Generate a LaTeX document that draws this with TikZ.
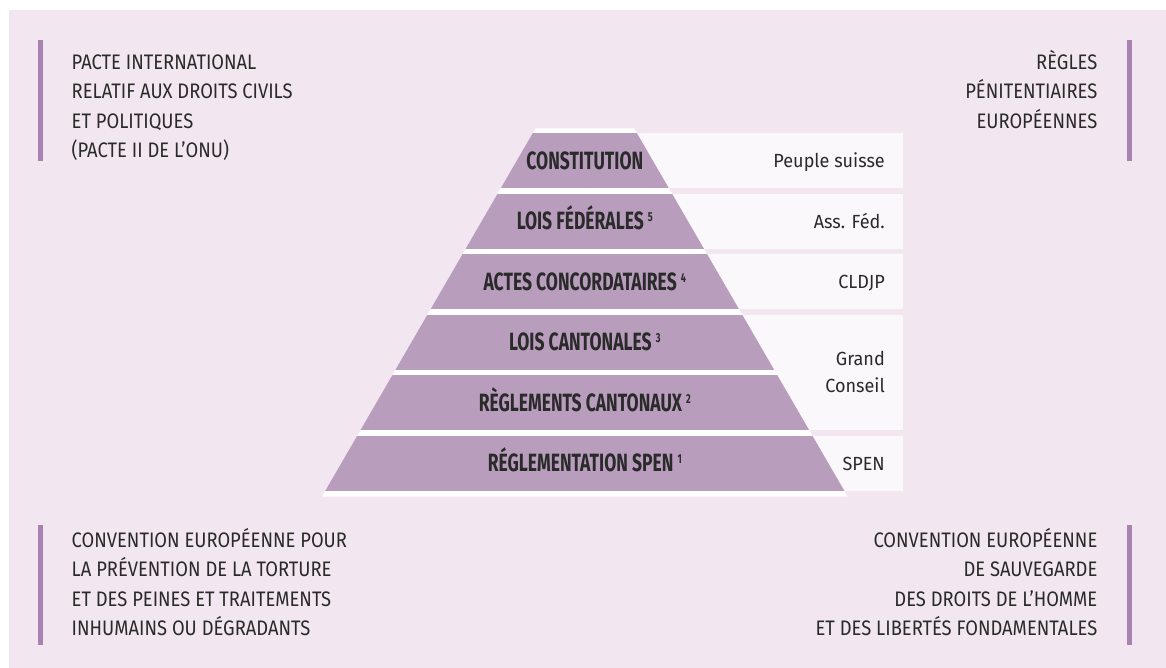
\documentclass[tikz,border=0pt]{standalone}
\usepackage{fontspec}
\setmainfont{Fira Sans}
\newfontfamily\sidefont{Fira Sans}[FakeStretch=0.875]
\newfontfamily\tierfont{Fira Sans}[FakeStretch=0.70]
\newfontfamily\labelfont{Fira Sans}[FakeStretch=0.95]
\definecolor{bgc}{HTML}{F2E7F1}
\definecolor{tierc}{HTML}{B89DBD}
\definecolor{boxc}{HTML}{FBF8FB}
\definecolor{barc}{HTML}{A883B0}
\definecolor{txt}{HTML}{2A2A2A}
\newcommand\supnum[1]{\raisebox{8.2pt}{\fontsize{13}{13}\selectfont #1}}
\begin{document}
\begin{tikzpicture}[x=1pt,y=-1pt,
  sidetext/.style={font=\sidefont\fontsize{21}{29.5}\selectfont, text=txt, inner sep=0pt},
  tiertext/.style={font=\tierfont\bfseries\fontsize{25}{25}\selectfont, text=txt, inner sep=0pt, anchor=base},
  authtext/.style={font=\labelfont\fontsize{19}{27}\selectfont, text=txt, inner sep=0pt, anchor=base east},
  sidebar/.style={fill=barc},
  tierfill/.style={fill=tierc},
  authbox/.style={fill=boxc}]
\useasboundingbox (0,0) rectangle (1166,668);
\fill[bgc] (9,10) rectangle (1166,668);
% side bars
\fill[sidebar] (37.5,40.5) rectangle (42.5,161.5);
\fill[sidebar] (1126.7,40.5) rectangle (1131.7,161.5);
\fill[sidebar] (37.5,524.5) rectangle (42.5,645);
\fill[sidebar] (1126.7,524.5) rectangle (1131.7,645);
% authority boxes
\fill[authbox] (585,133.3) rectangle (903.3,188.3);
\fill[authbox] (585,193.8) rectangle (903.3,248.8);
\fill[authbox] (585,254.3) rectangle (903.3,309.3);
\fill[authbox] (585,314.8) rectangle (903.3,430.3);
\fill[authbox] (585,435.8) rectangle (903.3,490.8);
% pyramid
\fill[white] (535.5,128.3) -- (634.1,128.3) -- (847.8,496.7) -- (321.8,496.7) -- cycle;
\begin{scope}
\clip (535.5,128.3) -- (634.1,128.3) -- (847.8,496.7) -- (321.8,496.7) -- cycle;
\foreach \t in {133.3,193.8,254.3,314.8,375.3,435.8}
  \fill[tierfill] (300,\t) rectangle (880,\t+55);
\end{scope}
% tier labels
\node[tiertext] (t1) at (584.8,169.4) {CONSTITUTION};
\node[tiertext] (t2) at (584.8,229.9) {LOIS FÉDÉRALES~\supnum{5}};
\node[tiertext] (t3) at (584.8,290.4) {ACTES CONCORDATAIRES~\supnum{4}};
\node[tiertext] (t4) at (584.8,350.9) {LOIS CANTONALES~\supnum{3}};
\node[tiertext] (t5) at (584.8,411.4) {RÈGLEMENTS CANTONAUX~\supnum{2}};
\node[tiertext] (t6) at (584.8,471.9) {RÉGLEMENTATION SPEN~\supnum{1}};
% authority labels
\node[authtext] (a1) at (885,167.7) {Peuple suisse};
\node[authtext] (a2) at (885,228.3) {Ass. Féd.};
\node[authtext] (a3) at (885,288.8) {CLDJP};
\node[authtext] (a4) at (885,365.5) {Grand};
\node[authtext] (a5) at (885,392.5) {Conseil};
\node[authtext] (a6) at (885,470.3) {SPEN};
% side texts
\node[sidetext, anchor=north west, align=left] (pacte) at (71.5,49)
  {\rule{0pt}{20pt}PACTE INTERNATIONAL\\RELATIF AUX DROITS CIVILS\\ET POLITIQUES\\(PACTE II DE L’ONU)};
\node[sidetext, anchor=north east, align=right] (regles) at (1097.5,49)
  {\rule{0pt}{20pt}RÈGLES\\PÉNITENTIAIRES\\EUROPÉENNES};
\node[sidetext, anchor=north west, align=left] (cpt) at (71.5,527)
  {\rule{0pt}{20pt}CONVENTION EUROPÉENNE POUR\\LA PRÉVENTION DE LA TORTURE\\ET DES PEINES ET TRAITEMENTS\\INHUMAINS OU DÉGRADANTS};
\node[sidetext, anchor=north east, align=right] (cedh) at (1097.5,527)
  {\rule{0pt}{20pt}CONVENTION EUROPÉENNE\\DE SAUVEGARDE\\DES DROITS DE L’HOMME\\ET DES LIBERTÉS FONDAMENTALES};
\end{tikzpicture}
\end{document}
